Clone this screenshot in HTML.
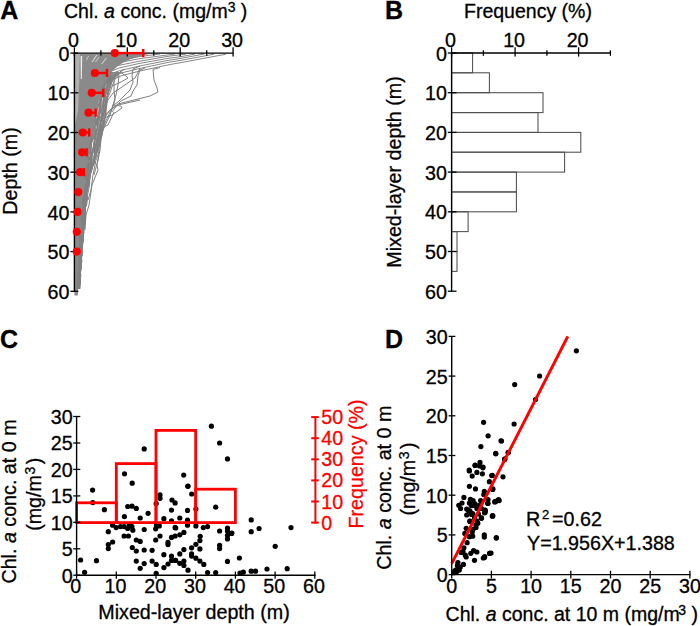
<!DOCTYPE html>
<html><head><meta charset="utf-8"><style>
html,body{margin:0;padding:0;background:#fff;overflow:hidden;}
svg{display:block;font-family:"Liberation Sans", sans-serif;}
text{stroke:#000;stroke-width:0.3px;}
text.r{stroke:#f00;}
</style></head><body>
<svg width="700" height="626" viewBox="0 0 700 626">
<rect width="700" height="626" fill="#fff"/>
<text x="0.2" y="18.6" font-size="25" text-anchor="start" font-weight="bold" fill="#000" >A</text>
<text x="384.9" y="18.6" font-size="25" text-anchor="start" font-weight="bold" fill="#000" >B</text>
<text x="-0.1" y="347.9" font-size="25" text-anchor="start" font-weight="bold" fill="#000" >C</text>
<text x="384.9" y="347.9" font-size="25" text-anchor="start" font-weight="bold" fill="#000" >D</text>
<text x="64" y="17.9" font-size="19.5">Chl. <tspan font-style="italic">a</tspan> conc. (mg/m<tspan font-size="14" dy="-6">3</tspan><tspan dy="6"> )</tspan></text>
<text transform="translate(16.7,171) rotate(-90)" font-size="19.7" text-anchor="middle">Depth (m)</text>
<polygon points="74.4,53.8 150.0,53.8 141.0,56.0 131.0,59.0 124.0,62.0 119.5,65.0 115.5,68.0 111.5,72.0 107.0,78.0 103.5,85.0 101.5,92.0 99.0,100.0 97.0,110.0 95.5,120.0 93.5,130.0 91.5,140.0 89.5,150.0 88.0,160.0 87.0,170.0 85.8,180.0 85.0,190.0 84.0,200.0 83.0,211.0 82.0,225.0 81.0,240.0 80.5,251.0 79.5,265.0 78.5,280.0 78.0,291.0 77.8,295.5 74.4,295.5" fill="#8a8a8a"/>
<polygon points="75.1,54 79.8,54 79.3,80 78.2,110 75.1,125" fill="#b0b0b0"/>
<path d="M80.6 56 L82.2 56 L81.8 79 L80.8 79 Z" fill="#eeeeee"/>
<path d="M91.5 62 L92.8 62 L97.5 55 L96.2 55 Z" fill="#d8d8d8"/>
<path d="M95 62 L96 62 L99.5 57 L98.5 57 Z" fill="#cfcfcf"/>
<path d="M101 64 L102.2 64 L107 58 L105.8 58 Z" fill="#d4d4d4"/>
<path d="M86 60 L87 60 L89 56 L88 56 Z" fill="#c8c8c8"/>
<path d="M103 86 L104 86 L103 100 L102 100 Z" fill="#d8d8d8"/>
<path d="M96 118 L97 118 L95.5 132 L94.5 132 Z" fill="#c8c8c8"/>
<path d="M91 150 L92 150 L90.5 165 L89.5 165 Z" fill="#c8c8c8"/>
<polyline points="111.6,72.0 106.9,79.0 104.7,86.0 101.3,93.0 99.3,100.0 98.1,107.0 95.7,114.0 95.6,121.0 94.5,128.0 93.6,135.0 90.1,142.0 89.3,149.0 87.6,156.0 88.8,163.0 87.7,170.0 84.9,177.0 87.0,184.0 86.4,191.0 84.7,198.0 83.9,205.0 82.0,212.0 81.0,219.0 82.1,226.0 80.2,233.0 80.1,240.0 79.9,247.0 78.9,254.0 79.7,261.0 79.1,268.0 79.9,275.0 78.5,282.0 78.5,289.0" fill="none" stroke="#808080" stroke-width="1"/>
<polyline points="112.3,72.0 107.5,79.0 103.7,86.0 101.1,93.0 101.2,100.0 99.8,107.0 98.2,114.0 96.7,121.0 94.1,128.0 92.4,135.0 91.2,142.0 89.1,149.0 90.0,156.0 87.9,163.0 88.4,170.0 86.1,177.0 87.1,184.0 86.1,191.0 82.9,198.0 82.8,205.0 84.3,212.0 82.5,219.0 83.5,226.0 81.3,233.0 79.8,240.0 81.2,247.0 81.2,254.0 79.2,261.0 78.1,268.0 78.4,275.0 79.9,282.0 78.9,289.0" fill="none" stroke="#808080" stroke-width="1"/>
<polyline points="111.6,72.0 106.7,79.0 103.0,86.0 100.8,93.0 101.1,100.0 97.9,107.0 97.9,114.0 96.4,121.0 94.2,128.0 94.4,135.0 91.2,142.0 91.3,149.0 88.5,156.0 88.3,163.0 86.7,170.0 85.9,177.0 87.3,184.0 86.1,191.0 83.9,198.0 85.0,205.0 82.3,212.0 82.3,219.0 83.2,226.0 82.1,233.0 80.0,240.0 82.3,247.0 79.5,254.0 79.2,261.0 80.2,268.0 78.4,275.0 77.9,282.0 76.9,289.0" fill="none" stroke="#808080" stroke-width="1"/>
<polyline points="112.1,72.0 108.0,79.0 103.8,86.0 102.9,93.0 100.2,100.0 99.2,107.0 99.6,114.0 97.0,121.0 95.8,128.0 95.3,135.0 91.8,142.0 90.3,149.0 91.3,156.0 89.8,163.0 87.0,170.0 85.8,177.0 86.7,184.0 86.6,191.0 83.7,198.0 85.3,205.0 84.4,212.0 83.1,219.0 82.0,226.0 80.6,233.0 79.9,240.0 82.3,247.0 79.7,254.0 80.6,261.0 78.7,268.0 80.0,275.0 78.8,282.0 77.6,289.0" fill="none" stroke="#808080" stroke-width="1"/>
<polyline points="112.8,72.0 108.8,79.0 103.7,86.0 102.1,93.0 101.3,100.0 100.9,107.0 99.1,114.0 96.9,121.0 97.3,128.0 93.8,135.0 91.8,142.0 91.1,149.0 90.3,156.0 87.8,163.0 87.0,170.0 86.5,177.0 86.4,184.0 84.3,191.0 84.3,198.0 85.2,205.0 84.8,212.0 83.3,219.0 82.9,226.0 82.1,233.0 80.3,240.0 79.5,247.0 79.1,254.0 81.2,261.0 80.1,268.0 80.4,275.0 77.1,282.0 78.6,289.0" fill="none" stroke="#808080" stroke-width="1"/>
<polyline points="114.3,72.0 109.2,79.0 104.9,86.0 104.8,93.0 100.3,100.0 100.5,107.0 100.0,114.0 99.2,121.0 97.3,128.0 95.7,135.0 94.6,142.0 93.5,149.0 90.4,156.0 90.0,163.0 89.4,170.0 88.2,177.0 86.0,184.0 86.4,191.0 85.9,198.0 84.3,205.0 83.8,212.0 82.6,219.0 82.7,226.0 82.2,233.0 80.1,240.0 81.4,247.0 82.0,254.0 81.2,261.0 80.2,268.0 78.7,275.0 79.3,282.0 78.5,289.0" fill="none" stroke="#808080" stroke-width="1"/>
<polyline points="114.7,72.0 109.9,79.0 104.5,86.0 104.5,93.0 100.6,100.0 101.2,107.0 99.7,114.0 97.7,121.0 97.7,128.0 95.6,135.0 94.5,142.0 94.0,149.0 90.6,156.0 88.3,163.0 87.8,170.0 87.8,177.0 85.5,184.0 84.6,191.0 86.1,198.0 84.7,205.0 83.4,212.0 84.2,219.0 82.0,226.0 82.5,233.0 80.6,240.0 80.9,247.0 81.5,254.0 81.3,261.0 80.7,268.0 78.8,275.0 78.9,282.0 77.7,289.0" fill="none" stroke="#808080" stroke-width="1"/>
<polyline points="114.3,72.0 109.2,79.0 107.2,86.0 105.2,93.0 103.1,100.0 102.7,107.0 99.6,114.0 98.0,121.0 97.4,128.0 95.4,135.0 93.8,142.0 93.0,149.0 92.1,156.0 90.1,163.0 88.1,170.0 88.5,177.0 88.0,184.0 85.6,191.0 83.7,198.0 82.9,205.0 84.8,212.0 81.8,219.0 83.2,226.0 82.3,233.0 81.0,240.0 82.0,247.0 79.2,254.0 79.1,261.0 79.5,268.0 77.7,275.0 79.7,282.0 77.5,289.0" fill="none" stroke="#808080" stroke-width="1"/>
<polyline points="114.8,72.0 108.2,79.0 107.0,86.0 104.3,93.0 103.3,100.0 102.3,107.0 101.7,114.0 100.9,121.0 98.6,128.0 95.7,135.0 95.1,142.0 92.7,149.0 90.7,156.0 90.3,163.0 89.5,170.0 86.7,177.0 86.0,184.0 85.4,191.0 85.7,198.0 84.5,205.0 84.1,212.0 84.0,219.0 82.4,226.0 83.0,233.0 82.8,240.0 79.9,247.0 82.0,254.0 80.9,261.0 78.6,268.0 79.1,275.0 79.1,282.0 79.6,289.0" fill="none" stroke="#808080" stroke-width="1"/>
<polyline points="116.0,72.0 110.2,79.0 108.1,86.0 105.8,93.0 104.8,100.0 102.2,107.0 101.8,114.0 99.1,121.0 99.2,128.0 98.0,135.0 96.0,142.0 94.8,149.0 91.7,156.0 91.9,163.0 90.5,170.0 89.2,177.0 87.0,184.0 86.9,191.0 84.7,198.0 85.8,205.0 84.9,212.0 82.9,219.0 81.5,226.0 82.1,233.0 81.8,240.0 82.0,247.0 80.7,254.0 78.8,261.0 80.7,268.0 77.9,275.0 79.7,282.0 77.4,289.0" fill="none" stroke="#808080" stroke-width="1"/>
<polyline points="116.4,72.0 111.2,79.0 106.3,86.0 104.2,93.0 103.9,100.0 103.5,107.0 102.9,114.0 101.1,121.0 100.3,128.0 97.5,135.0 97.4,142.0 93.4,149.0 92.1,156.0 91.1,163.0 88.6,170.0 88.7,177.0 87.4,184.0 86.2,191.0 86.4,198.0 84.8,205.0 83.4,212.0 83.1,219.0 83.9,226.0 83.5,233.0 80.9,240.0 82.3,247.0 82.2,254.0 80.4,261.0 80.0,268.0 78.4,275.0 78.9,282.0 78.4,289.0" fill="none" stroke="#808080" stroke-width="1"/>
<polyline points="117.7,72.0 109.3,79.0 109.2,86.0 105.7,93.0 104.0,100.0 104.3,107.0 102.6,114.0 101.0,121.0 100.1,128.0 96.7,135.0 96.7,142.0 94.9,149.0 94.7,156.0 92.7,163.0 88.8,170.0 88.1,177.0 86.0,184.0 86.0,191.0 86.4,198.0 85.9,205.0 84.0,212.0 83.0,219.0 82.0,226.0 82.7,233.0 83.1,240.0 80.2,247.0 81.7,254.0 78.9,261.0 78.9,268.0 78.5,275.0 79.4,282.0 77.9,289.0" fill="none" stroke="#808080" stroke-width="1"/>
<polyline points="117.5,72.0 111.4,79.0 107.0,86.0 106.8,93.0 103.7,100.0 103.9,107.0 102.1,114.0 100.6,121.0 100.1,128.0 98.3,135.0 96.7,142.0 95.3,149.0 93.9,156.0 90.7,163.0 88.8,170.0 88.7,177.0 87.7,184.0 86.4,191.0 86.6,198.0 85.2,205.0 85.2,212.0 82.8,219.0 83.8,226.0 83.4,233.0 83.1,240.0 80.9,247.0 80.3,254.0 81.7,261.0 79.0,268.0 80.9,275.0 80.1,282.0 77.3,289.0" fill="none" stroke="#808080" stroke-width="1"/>
<polyline points="117.7,72.0 112.1,79.0 107.9,86.0 105.3,93.0 106.3,100.0 104.1,107.0 104.3,114.0 100.9,121.0 100.2,128.0 99.5,135.0 96.1,142.0 95.2,149.0 94.7,156.0 93.3,163.0 91.3,170.0 87.3,177.0 87.5,184.0 87.2,191.0 85.7,198.0 85.5,205.0 83.3,212.0 82.4,219.0 81.9,226.0 81.2,233.0 82.1,240.0 81.5,247.0 81.2,254.0 79.4,261.0 79.0,268.0 78.5,275.0 79.9,282.0 79.9,289.0" fill="none" stroke="#808080" stroke-width="1"/>
<polyline points="120.2,72.0 110.6,79.0 107.7,86.0 108.2,93.0 105.6,100.0 105.6,107.0 103.4,114.0 102.4,121.0 101.0,128.0 99.2,135.0 98.3,142.0 95.1,149.0 95.2,156.0 93.4,163.0 89.2,170.0 88.5,177.0 88.3,184.0 86.3,191.0 84.9,198.0 84.1,205.0 84.4,212.0 82.3,219.0 84.4,226.0 83.5,233.0 82.7,240.0 82.6,247.0 81.4,254.0 80.2,261.0 80.3,268.0 79.5,275.0 80.4,282.0 79.4,289.0" fill="none" stroke="#808080" stroke-width="1"/>
<polyline points="118.8,72.0 113.4,79.0 110.1,86.0 108.1,93.0 107.2,100.0 105.1,107.0 105.6,114.0 104.1,121.0 102.0,128.0 100.7,135.0 99.3,142.0 96.7,149.0 95.7,156.0 91.4,163.0 89.9,170.0 88.8,177.0 86.3,184.0 86.2,191.0 86.3,198.0 85.5,205.0 83.7,212.0 85.2,219.0 83.8,226.0 82.2,233.0 82.6,240.0 81.8,247.0 81.2,254.0 80.2,261.0 81.5,268.0 79.9,275.0 79.6,282.0 79.3,289.0" fill="none" stroke="#808080" stroke-width="1"/>
<polyline points="121.4,72.0 111.1,79.0 110.1,86.0 108.3,93.0 105.9,100.0 105.6,107.0 103.6,114.0 102.6,121.0 101.6,128.0 99.2,135.0 98.2,142.0 98.7,149.0 95.6,156.0 93.0,163.0 91.9,170.0 89.2,177.0 89.4,184.0 87.2,191.0 86.9,198.0 84.0,205.0 84.9,212.0 84.8,219.0 82.0,226.0 84.1,233.0 81.2,240.0 81.6,247.0 80.1,254.0 80.6,261.0 80.4,268.0 78.2,275.0 80.4,282.0 78.3,289.0" fill="none" stroke="#808080" stroke-width="1"/>
<polyline points="120.6,72.0 113.2,79.0 109.8,86.0 107.4,93.0 107.6,100.0 106.5,107.0 104.8,114.0 104.6,121.0 101.8,128.0 99.4,135.0 98.7,142.0 96.6,149.0 94.8,156.0 94.1,163.0 90.4,170.0 90.4,177.0 88.8,184.0 85.5,191.0 87.6,198.0 86.7,205.0 83.4,212.0 85.3,219.0 83.3,226.0 82.8,233.0 83.7,240.0 80.9,247.0 81.2,254.0 81.9,261.0 80.8,268.0 79.5,275.0 80.5,282.0 79.5,289.0" fill="none" stroke="#808080" stroke-width="1"/>
<polyline points="121.3,72.0 112.1,79.0 110.9,86.0 108.3,93.0 106.7,100.0 105.5,107.0 106.1,114.0 103.3,121.0 102.7,128.0 101.9,135.0 99.8,142.0 97.7,149.0 96.5,156.0 93.4,163.0 91.8,170.0 89.5,177.0 89.7,184.0 88.4,191.0 86.9,198.0 84.7,205.0 83.6,212.0 85.3,219.0 84.4,226.0 83.3,233.0 81.9,240.0 81.1,247.0 81.8,254.0 80.9,261.0 80.4,268.0 80.0,275.0 79.9,282.0 77.7,289.0" fill="none" stroke="#808080" stroke-width="1"/>
<polyline points="120.8,72.0 115.1,79.0 112.2,86.0 109.9,93.0 106.7,100.0 106.0,107.0 105.8,114.0 104.7,121.0 103.8,128.0 100.6,135.0 100.5,142.0 97.6,149.0 95.5,156.0 94.5,163.0 91.3,170.0 89.9,177.0 87.9,184.0 87.1,191.0 85.4,198.0 85.1,205.0 85.6,212.0 85.3,219.0 82.4,226.0 81.9,233.0 83.4,240.0 82.2,247.0 82.1,254.0 79.9,261.0 80.0,268.0 79.0,275.0 80.1,282.0 78.2,289.0" fill="none" stroke="#808080" stroke-width="1"/>
<polyline points="226.0,54.2 180.0,62.8 170.0,64.5 140.0,71.0 122.0,75.5 112.0,80.0" fill="none" stroke="#878787" stroke-width="1"/>
<polyline points="214.0,54.2 180.0,60.5 170.0,62.0 140.0,68.4 121.0,73.0 110.0,77.0" fill="none" stroke="#878787" stroke-width="1"/>
<polyline points="204.0,54.1 180.0,58.5 170.0,60.0 140.0,65.9 120.0,70.5 110.0,74.0" fill="none" stroke="#878787" stroke-width="1"/>
<polyline points="195.0,54.1 180.0,56.8 170.0,58.0 140.0,63.3 119.0,68.0 109.0,72.0" fill="none" stroke="#878787" stroke-width="1"/>
<polyline points="186.0,54.1 170.0,56.0 140.0,61.1 118.0,65.5" fill="none" stroke="#878787" stroke-width="1"/>
<polyline points="175.0,54.0 140.0,58.6 117.0,63.0" fill="none" stroke="#878787" stroke-width="1"/>
<polyline points="160.0,54.0 140.0,56.5 116.0,60.5" fill="none" stroke="#878787" stroke-width="1"/>
<polyline points="160.0,67.5 153.0,69.5 154.0,80.0 157.0,88.0 158.0,92.0 150.0,96.0 130.0,101.0 118.0,104.0 110.0,110.0 104.0,118.0" fill="none" stroke="#808080" stroke-width="1"/>
<polyline points="145.0,68.0 140.0,70.0 138.0,76.0 137.0,85.0 133.0,91.0 131.0,96.0 121.0,101.0 117.0,105.0 112.0,112.0" fill="none" stroke="#808080" stroke-width="1"/>
<polyline points="140.0,66.0 133.0,69.0 132.0,76.0 133.0,82.0 130.0,90.0 124.0,96.0 118.0,102.0 112.0,106.0" fill="none" stroke="#808080" stroke-width="1"/>
<polyline points="140.0,68.5 135.0,78.0 122.0,87.0 113.0,93.0 108.0,100.0" fill="none" stroke="#808080" stroke-width="1"/>
<polyline points="125.0,69.0 120.0,72.0 126.0,76.0 128.0,78.0 121.0,82.0 112.0,86.0" fill="none" stroke="#808080" stroke-width="1"/>
<polyline points="140.0,100.0 118.0,105.0 110.0,110.0 104.0,118.0" fill="none" stroke="#808080" stroke-width="1"/>
<polyline points="113.0,105.0 121.0,106.0 122.0,108.0 112.0,115.0 104.0,118.0 100.0,122.0" fill="none" stroke="#808080" stroke-width="1"/>
<polyline points="114.0,112.0 108.0,125.0 101.0,128.0 99.0,135.0" fill="none" stroke="#808080" stroke-width="1"/>
<polyline points="116.0,73.0 114.0,80.0 114.0,90.0 115.0,100.0 110.0,115.0 103.0,130.0 100.0,140.0 98.0,160.0 94.0,175.0" fill="none" stroke="#808080" stroke-width="1"/>
<polyline points="119.0,75.0 118.0,85.0 116.0,95.0 112.0,108.0 104.0,125.0 100.0,135.0 96.0,150.0" fill="none" stroke="#808080" stroke-width="1"/>
<polyline points="103.0,130.0 101.0,140.0 100.0,150.0 96.0,160.0 93.0,175.0 91.0,190.0 88.0,200.0" fill="none" stroke="#808080" stroke-width="1"/>
<polyline points="100.0,150.0 97.0,165.0 98.0,170.0 92.0,185.0 89.0,205.0 86.0,215.0 85.0,230.0" fill="none" stroke="#808080" stroke-width="1"/>
<line x1="74.4" y1="53.1" x2="233.2" y2="53.1" stroke="#000" stroke-width="1.4" />
<line x1="74.4" y1="52.4" x2="74.4" y2="291.6" stroke="#000" stroke-width="1.4" />
<line x1="74.4" y1="47.3" x2="74.4" y2="56.6" stroke="#000" stroke-width="1.3" />
<line x1="100.9" y1="50.3" x2="100.9" y2="55.8" stroke="#000" stroke-width="1.3" />
<line x1="127.3" y1="47.3" x2="127.3" y2="56.6" stroke="#000" stroke-width="1.3" />
<line x1="153.8" y1="50.3" x2="153.8" y2="55.8" stroke="#000" stroke-width="1.3" />
<line x1="180.2" y1="47.3" x2="180.2" y2="56.6" stroke="#000" stroke-width="1.3" />
<line x1="206.7" y1="50.3" x2="206.7" y2="55.8" stroke="#000" stroke-width="1.3" />
<line x1="233.1" y1="47.3" x2="233.1" y2="56.6" stroke="#000" stroke-width="1.3" />
<line x1="70.4" y1="53.1" x2="78.4" y2="53.1" stroke="#000" stroke-width="1.3" />
<line x1="70.4" y1="92.8" x2="78.4" y2="92.8" stroke="#000" stroke-width="1.3" />
<line x1="70.4" y1="132.5" x2="78.4" y2="132.5" stroke="#000" stroke-width="1.3" />
<line x1="70.4" y1="172.2" x2="78.4" y2="172.2" stroke="#000" stroke-width="1.3" />
<line x1="70.4" y1="211.9" x2="78.4" y2="211.9" stroke="#000" stroke-width="1.3" />
<line x1="70.4" y1="251.6" x2="78.4" y2="251.6" stroke="#000" stroke-width="1.3" />
<line x1="70.4" y1="291.3" x2="78.4" y2="291.3" stroke="#000" stroke-width="1.3" />
<text x="73.4" y="46.6" font-size="19.7" text-anchor="middle" font-weight="normal" fill="#000" >0</text>
<text x="126.3" y="46.6" font-size="19.7" text-anchor="middle" font-weight="normal" fill="#000" >10</text>
<text x="179.2" y="46.6" font-size="19.7" text-anchor="middle" font-weight="normal" fill="#000" >20</text>
<text x="232.1" y="46.6" font-size="19.7" text-anchor="middle" font-weight="normal" fill="#000" >30</text>
<text x="69.5" y="60.7" font-size="19.7" text-anchor="end" font-weight="normal" fill="#000" >0</text>
<text x="69.5" y="100.4" font-size="19.7" text-anchor="end" font-weight="normal" fill="#000" >10</text>
<text x="69.5" y="140.1" font-size="19.7" text-anchor="end" font-weight="normal" fill="#000" >20</text>
<text x="69.5" y="179.8" font-size="19.7" text-anchor="end" font-weight="normal" fill="#000" >30</text>
<text x="69.5" y="219.5" font-size="19.7" text-anchor="end" font-weight="normal" fill="#000" >40</text>
<text x="69.5" y="259.2" font-size="19.7" text-anchor="end" font-weight="normal" fill="#000" >50</text>
<text x="69.5" y="298.9" font-size="19.7" text-anchor="end" font-weight="normal" fill="#000" >60</text>
<line x1="114.8" y1="53.1" x2="143.2" y2="53.1" stroke="#ff0000" stroke-width="2.4" />
<line x1="143.2" y1="49.0" x2="143.2" y2="57.2" stroke="#ff0000" stroke-width="2.5" />
<circle cx="114.8" cy="53.1" r="4.1" fill="#ff0000"/>
<line x1="94.9" y1="73.0" x2="107.0" y2="73.0" stroke="#ff0000" stroke-width="2.4" />
<line x1="107.0" y1="68.9" x2="107.0" y2="77.0" stroke="#ff0000" stroke-width="2.5" />
<circle cx="94.9" cy="73.0" r="4.1" fill="#ff0000"/>
<line x1="91.7" y1="92.8" x2="103.2" y2="92.8" stroke="#ff0000" stroke-width="2.4" />
<line x1="103.2" y1="88.7" x2="103.2" y2="96.9" stroke="#ff0000" stroke-width="2.5" />
<circle cx="91.7" cy="92.8" r="4.1" fill="#ff0000"/>
<line x1="88.5" y1="112.7" x2="95.6" y2="112.7" stroke="#ff0000" stroke-width="2.4" />
<line x1="95.6" y1="108.6" x2="95.6" y2="116.8" stroke="#ff0000" stroke-width="2.5" />
<circle cx="88.5" cy="112.7" r="4.1" fill="#ff0000"/>
<line x1="82.8" y1="132.5" x2="89.2" y2="132.5" stroke="#ff0000" stroke-width="2.4" />
<line x1="89.2" y1="128.4" x2="89.2" y2="136.6" stroke="#ff0000" stroke-width="2.5" />
<circle cx="82.8" cy="132.5" r="4.1" fill="#ff0000"/>
<line x1="82.1" y1="152.3" x2="86.6" y2="152.3" stroke="#ff0000" stroke-width="2.4" />
<line x1="86.6" y1="148.2" x2="86.6" y2="156.4" stroke="#ff0000" stroke-width="2.5" />
<circle cx="82.1" cy="152.3" r="4.1" fill="#ff0000"/>
<line x1="80.2" y1="172.2" x2="84.0" y2="172.2" stroke="#ff0000" stroke-width="2.4" />
<line x1="84.0" y1="168.1" x2="84.0" y2="176.3" stroke="#ff0000" stroke-width="2.5" />
<circle cx="80.2" cy="172.2" r="4.1" fill="#ff0000"/>
<circle cx="78.3" cy="192.1" r="4.1" fill="#ff0000"/>
<circle cx="77.6" cy="211.9" r="4.1" fill="#ff0000"/>
<circle cx="76.8" cy="231.8" r="4.1" fill="#ff0000"/>
<circle cx="76.8" cy="251.6" r="4.1" fill="#ff0000"/>
<text x="464" y="17.9" font-size="19.5">Frequency (%)</text>
<text transform="translate(401.1,172) rotate(-90)" font-size="19.7" text-anchor="middle">Mixed-layer depth (m)</text>
<rect x="451.6" y="53.0" width="21.0" height="19.8" fill="none" stroke="#4f4f4f" stroke-width="1.05"/>
<rect x="451.6" y="72.8" width="37.8" height="19.9" fill="none" stroke="#4f4f4f" stroke-width="1.05"/>
<rect x="451.6" y="92.7" width="91.4" height="19.9" fill="none" stroke="#4f4f4f" stroke-width="1.05"/>
<rect x="451.6" y="112.6" width="86.4" height="19.8" fill="none" stroke="#4f4f4f" stroke-width="1.05"/>
<rect x="451.6" y="132.4" width="129.2" height="19.8" fill="none" stroke="#4f4f4f" stroke-width="1.05"/>
<rect x="451.6" y="152.2" width="113.0" height="19.9" fill="none" stroke="#4f4f4f" stroke-width="1.05"/>
<rect x="451.6" y="172.1" width="64.8" height="19.8" fill="none" stroke="#4f4f4f" stroke-width="1.05"/>
<rect x="451.6" y="192.0" width="64.8" height="19.8" fill="none" stroke="#4f4f4f" stroke-width="1.05"/>
<rect x="451.6" y="211.8" width="16.5" height="19.8" fill="none" stroke="#4f4f4f" stroke-width="1.05"/>
<rect x="451.6" y="231.7" width="5.4" height="19.8" fill="none" stroke="#4f4f4f" stroke-width="1.05"/>
<rect x="451.6" y="251.5" width="5.4" height="19.9" fill="none" stroke="#4f4f4f" stroke-width="1.05"/>
<line x1="451.6" y1="53.0" x2="610.4" y2="53.0" stroke="#000" stroke-width="1.4" />
<line x1="451.6" y1="52.3" x2="451.6" y2="291.6" stroke="#000" stroke-width="1.4" />
<line x1="451.6" y1="47.3" x2="451.6" y2="56.6" stroke="#000" stroke-width="1.3" />
<line x1="483.4" y1="50.3" x2="483.4" y2="55.8" stroke="#000" stroke-width="1.3" />
<line x1="515.1" y1="47.3" x2="515.1" y2="56.6" stroke="#000" stroke-width="1.3" />
<line x1="546.9" y1="50.3" x2="546.9" y2="55.8" stroke="#000" stroke-width="1.3" />
<line x1="578.6" y1="47.3" x2="578.6" y2="56.6" stroke="#000" stroke-width="1.3" />
<line x1="610.4" y1="50.3" x2="610.4" y2="55.8" stroke="#000" stroke-width="1.3" />
<line x1="447.8" y1="53.0" x2="456.5" y2="53.0" stroke="#000" stroke-width="1.3" />
<line x1="447.8" y1="92.7" x2="456.5" y2="92.7" stroke="#000" stroke-width="1.3" />
<line x1="447.8" y1="132.4" x2="456.5" y2="132.4" stroke="#000" stroke-width="1.3" />
<line x1="447.8" y1="172.1" x2="456.5" y2="172.1" stroke="#000" stroke-width="1.3" />
<line x1="447.8" y1="211.8" x2="456.5" y2="211.8" stroke="#000" stroke-width="1.3" />
<line x1="447.8" y1="251.5" x2="456.5" y2="251.5" stroke="#000" stroke-width="1.3" />
<line x1="447.8" y1="291.2" x2="456.5" y2="291.2" stroke="#000" stroke-width="1.3" />
<text x="450.6" y="46.6" font-size="19.7" text-anchor="middle" font-weight="normal" fill="#000" >0</text>
<text x="514.1" y="46.6" font-size="19.7" text-anchor="middle" font-weight="normal" fill="#000" >10</text>
<text x="577.6" y="46.6" font-size="19.7" text-anchor="middle" font-weight="normal" fill="#000" >20</text>
<text x="447.0" y="60.6" font-size="19.7" text-anchor="end" font-weight="normal" fill="#000" >0</text>
<text x="447.0" y="100.3" font-size="19.7" text-anchor="end" font-weight="normal" fill="#000" >10</text>
<text x="447.0" y="140.0" font-size="19.7" text-anchor="end" font-weight="normal" fill="#000" >20</text>
<text x="447.0" y="179.7" font-size="19.7" text-anchor="end" font-weight="normal" fill="#000" >30</text>
<text x="447.0" y="219.4" font-size="19.7" text-anchor="end" font-weight="normal" fill="#000" >40</text>
<text x="447.0" y="259.1" font-size="19.7" text-anchor="end" font-weight="normal" fill="#000" >50</text>
<text x="447.0" y="298.8" font-size="19.7" text-anchor="end" font-weight="normal" fill="#000" >60</text>
<text transform="translate(16.2,501.5) rotate(-90)" font-size="19.7" text-anchor="middle">Chl. <tspan font-style="italic">a</tspan> conc. at 0 m</text>
<text transform="translate(40.6,494.3) rotate(-90)" font-size="19.7" text-anchor="middle">(mg/m<tspan font-size="14" dy="-6" dx="0.5">3</tspan><tspan dy="6" dx="2.5">)</tspan></text>
<text x="194.0" y="618.8" font-size="19.7" text-anchor="middle" font-weight="normal" fill="#000" >Mixed-layer depth (m)</text>
<circle cx="92.6" cy="490.1" r="2.6" fill="#000"/>
<circle cx="144.2" cy="448.9" r="2.6" fill="#000"/>
<circle cx="124.5" cy="473.8" r="2.6" fill="#000"/>
<circle cx="132.2" cy="483.2" r="2.6" fill="#000"/>
<circle cx="183.7" cy="475.1" r="2.6" fill="#000"/>
<circle cx="187.8" cy="486.3" r="2.6" fill="#000"/>
<circle cx="191.7" cy="494.0" r="2.6" fill="#000"/>
<circle cx="160.0" cy="494.9" r="2.6" fill="#000"/>
<circle cx="160.0" cy="498.3" r="2.6" fill="#000"/>
<circle cx="172.0" cy="500.0" r="2.6" fill="#000"/>
<circle cx="92.8" cy="502.6" r="2.6" fill="#000"/>
<circle cx="104.4" cy="509.7" r="2.6" fill="#000"/>
<circle cx="127.7" cy="506.5" r="2.6" fill="#000"/>
<circle cx="132.0" cy="506.2" r="2.6" fill="#000"/>
<circle cx="136.3" cy="508.4" r="2.6" fill="#000"/>
<circle cx="124.4" cy="516.6" r="2.6" fill="#000"/>
<circle cx="140.2" cy="518.0" r="2.6" fill="#000"/>
<circle cx="148.1" cy="513.3" r="2.6" fill="#000"/>
<circle cx="156.2" cy="503.6" r="2.6" fill="#000"/>
<circle cx="171.5" cy="510.1" r="2.6" fill="#000"/>
<circle cx="163.9" cy="518.7" r="2.6" fill="#000"/>
<circle cx="171.5" cy="520.9" r="2.6" fill="#000"/>
<circle cx="175.1" cy="502.9" r="2.6" fill="#000"/>
<circle cx="175.1" cy="527.4" r="2.6" fill="#000"/>
<circle cx="112.6" cy="525.2" r="2.6" fill="#000"/>
<circle cx="116.2" cy="527.6" r="2.6" fill="#000"/>
<circle cx="120.5" cy="526.6" r="2.6" fill="#000"/>
<circle cx="124.1" cy="526.6" r="2.6" fill="#000"/>
<circle cx="127.7" cy="528.5" r="2.6" fill="#000"/>
<circle cx="132.0" cy="526.6" r="2.6" fill="#000"/>
<circle cx="132.8" cy="530.2" r="2.6" fill="#000"/>
<circle cx="129.2" cy="525.2" r="2.6" fill="#000"/>
<circle cx="108.3" cy="531.7" r="2.6" fill="#000"/>
<circle cx="144.2" cy="529.5" r="2.6" fill="#000"/>
<circle cx="155.7" cy="528.8" r="2.6" fill="#000"/>
<circle cx="159.3" cy="525.9" r="2.6" fill="#000"/>
<circle cx="156.5" cy="525.2" r="2.6" fill="#000"/>
<circle cx="124.1" cy="536.0" r="2.6" fill="#000"/>
<circle cx="128.4" cy="536.0" r="2.6" fill="#000"/>
<circle cx="160.0" cy="536.0" r="2.6" fill="#000"/>
<circle cx="155.7" cy="540.0" r="2.6" fill="#000"/>
<circle cx="136.3" cy="540.0" r="2.6" fill="#000"/>
<circle cx="140.2" cy="541.4" r="2.6" fill="#000"/>
<circle cx="112.6" cy="542.0" r="2.6" fill="#000"/>
<circle cx="108.3" cy="544.6" r="2.6" fill="#000"/>
<circle cx="108.3" cy="548.6" r="2.6" fill="#000"/>
<circle cx="132.3" cy="547.5" r="2.6" fill="#000"/>
<circle cx="136.3" cy="551.0" r="2.6" fill="#000"/>
<circle cx="144.2" cy="550.0" r="2.6" fill="#000"/>
<circle cx="152.1" cy="550.3" r="2.6" fill="#000"/>
<circle cx="168.0" cy="542.4" r="2.6" fill="#000"/>
<circle cx="168.0" cy="544.6" r="2.6" fill="#000"/>
<circle cx="171.5" cy="537.4" r="2.6" fill="#000"/>
<circle cx="175.1" cy="536.0" r="2.6" fill="#000"/>
<circle cx="163.9" cy="554.7" r="2.6" fill="#000"/>
<circle cx="171.5" cy="556.1" r="2.6" fill="#000"/>
<circle cx="171.5" cy="560.4" r="2.6" fill="#000"/>
<circle cx="168.0" cy="564.0" r="2.6" fill="#000"/>
<circle cx="163.9" cy="567.6" r="2.6" fill="#000"/>
<circle cx="175.1" cy="560.4" r="2.6" fill="#000"/>
<circle cx="80.6" cy="560.0" r="2.6" fill="#000"/>
<circle cx="96.5" cy="560.7" r="2.6" fill="#000"/>
<circle cx="84.6" cy="572.3" r="2.6" fill="#000"/>
<circle cx="136.3" cy="561.1" r="2.6" fill="#000"/>
<circle cx="144.2" cy="563.6" r="2.6" fill="#000"/>
<circle cx="140.2" cy="568.3" r="2.6" fill="#000"/>
<circle cx="152.1" cy="561.1" r="2.6" fill="#000"/>
<circle cx="156.2" cy="564.4" r="2.6" fill="#000"/>
<circle cx="156.2" cy="573.3" r="2.6" fill="#000"/>
<circle cx="211.4" cy="426.2" r="2.6" fill="#000"/>
<circle cx="219.6" cy="443.0" r="2.6" fill="#000"/>
<circle cx="227.5" cy="458.9" r="2.6" fill="#000"/>
<circle cx="188.0" cy="486.1" r="2.6" fill="#000"/>
<circle cx="187.5" cy="510.4" r="2.6" fill="#000"/>
<circle cx="195.9" cy="509.1" r="2.6" fill="#000"/>
<circle cx="215.7" cy="507.2" r="2.6" fill="#000"/>
<circle cx="179.8" cy="518.0" r="2.6" fill="#000"/>
<circle cx="187.5" cy="520.2" r="2.6" fill="#000"/>
<circle cx="175.7" cy="528.0" r="2.6" fill="#000"/>
<circle cx="187.5" cy="525.2" r="2.6" fill="#000"/>
<circle cx="195.9" cy="525.9" r="2.6" fill="#000"/>
<circle cx="203.3" cy="527.6" r="2.6" fill="#000"/>
<circle cx="207.6" cy="526.6" r="2.6" fill="#000"/>
<circle cx="219.6" cy="531.0" r="2.6" fill="#000"/>
<circle cx="227.5" cy="528.0" r="2.6" fill="#000"/>
<circle cx="227.5" cy="531.0" r="2.6" fill="#000"/>
<circle cx="231.8" cy="533.1" r="2.6" fill="#000"/>
<circle cx="227.5" cy="535.3" r="2.6" fill="#000"/>
<circle cx="227.5" cy="538.9" r="2.6" fill="#000"/>
<circle cx="251.2" cy="519.9" r="2.6" fill="#000"/>
<circle cx="251.2" cy="531.7" r="2.6" fill="#000"/>
<circle cx="259.1" cy="528.5" r="2.6" fill="#000"/>
<circle cx="183.9" cy="532.4" r="2.6" fill="#000"/>
<circle cx="179.8" cy="534.8" r="2.6" fill="#000"/>
<circle cx="200.2" cy="536.3" r="2.6" fill="#000"/>
<circle cx="199.9" cy="540.6" r="2.6" fill="#000"/>
<circle cx="195.9" cy="544.3" r="2.6" fill="#000"/>
<circle cx="191.6" cy="547.8" r="2.6" fill="#000"/>
<circle cx="199.9" cy="548.9" r="2.6" fill="#000"/>
<circle cx="219.6" cy="545.3" r="2.6" fill="#000"/>
<circle cx="219.6" cy="548.6" r="2.6" fill="#000"/>
<circle cx="183.9" cy="549.6" r="2.6" fill="#000"/>
<circle cx="179.8" cy="553.9" r="2.6" fill="#000"/>
<circle cx="191.6" cy="553.9" r="2.6" fill="#000"/>
<circle cx="191.6" cy="556.1" r="2.6" fill="#000"/>
<circle cx="195.9" cy="558.2" r="2.6" fill="#000"/>
<circle cx="175.7" cy="560.4" r="2.6" fill="#000"/>
<circle cx="199.9" cy="561.1" r="2.6" fill="#000"/>
<circle cx="183.9" cy="561.1" r="2.6" fill="#000"/>
<circle cx="179.8" cy="563.3" r="2.6" fill="#000"/>
<circle cx="183.9" cy="565.4" r="2.6" fill="#000"/>
<circle cx="203.8" cy="564.4" r="2.6" fill="#000"/>
<circle cx="188.0" cy="570.2" r="2.6" fill="#000"/>
<circle cx="227.5" cy="561.4" r="2.6" fill="#000"/>
<circle cx="239.4" cy="558.0" r="2.6" fill="#000"/>
<circle cx="207.6" cy="572.6" r="2.6" fill="#000"/>
<circle cx="215.7" cy="572.6" r="2.6" fill="#000"/>
<circle cx="240.0" cy="573.0" r="2.6" fill="#000"/>
<circle cx="243.3" cy="572.2" r="2.6" fill="#000"/>
<circle cx="251.2" cy="571.2" r="2.6" fill="#000"/>
<circle cx="255.5" cy="571.2" r="2.6" fill="#000"/>
<circle cx="267.0" cy="569.0" r="2.6" fill="#000"/>
<circle cx="291.0" cy="527.6" r="2.6" fill="#000"/>
<circle cx="275.2" cy="546.3" r="2.6" fill="#000"/>
<circle cx="287.2" cy="568.7" r="2.6" fill="#000"/>
<circle cx="231.6" cy="533.5" r="2.6" fill="#000"/>
<rect x="76.6" y="502.8" width="39.7" height="19.8" fill="none" stroke="#ff0000" stroke-width="2.8"/>
<rect x="116.3" y="463.6" width="39.7" height="59.0" fill="none" stroke="#ff0000" stroke-width="2.8"/>
<rect x="156.0" y="430.4" width="39.7" height="92.2" fill="none" stroke="#ff0000" stroke-width="2.8"/>
<rect x="195.7" y="489.2" width="39.7" height="33.4" fill="none" stroke="#ff0000" stroke-width="2.8"/>
<line x1="76.6" y1="416.2" x2="76.6" y2="575.9" stroke="#000" stroke-width="1.4" />
<line x1="75.9" y1="575.2" x2="315.5" y2="575.2" stroke="#000" stroke-width="1.4" />
<line x1="73.2" y1="575.2" x2="80.3" y2="575.2" stroke="#000" stroke-width="1.3" />
<text x="72.6" y="582.6" font-size="19.7" text-anchor="end" font-weight="normal" fill="#000" >0</text>
<line x1="73.2" y1="548.8" x2="80.3" y2="548.8" stroke="#000" stroke-width="1.3" />
<text x="72.6" y="556.1" font-size="19.7" text-anchor="end" font-weight="normal" fill="#000" >5</text>
<line x1="73.2" y1="522.3" x2="80.3" y2="522.3" stroke="#000" stroke-width="1.3" />
<text x="72.6" y="529.7" font-size="19.7" text-anchor="end" font-weight="normal" fill="#000" >10</text>
<line x1="73.2" y1="495.9" x2="80.3" y2="495.9" stroke="#000" stroke-width="1.3" />
<text x="72.6" y="503.2" font-size="19.7" text-anchor="end" font-weight="normal" fill="#000" >15</text>
<line x1="73.2" y1="469.4" x2="80.3" y2="469.4" stroke="#000" stroke-width="1.3" />
<text x="72.6" y="476.8" font-size="19.7" text-anchor="end" font-weight="normal" fill="#000" >20</text>
<line x1="73.2" y1="443.0" x2="80.3" y2="443.0" stroke="#000" stroke-width="1.3" />
<text x="72.6" y="450.4" font-size="19.7" text-anchor="end" font-weight="normal" fill="#000" >25</text>
<line x1="73.2" y1="416.5" x2="80.3" y2="416.5" stroke="#000" stroke-width="1.3" />
<text x="72.6" y="423.9" font-size="19.7" text-anchor="end" font-weight="normal" fill="#000" >30</text>
<line x1="76.6" y1="571.5" x2="76.6" y2="578.7" stroke="#000" stroke-width="1.3" />
<text x="75.8" y="593.3" font-size="19.7" text-anchor="middle" font-weight="normal" fill="#000" >0</text>
<line x1="116.3" y1="571.5" x2="116.3" y2="578.7" stroke="#000" stroke-width="1.3" />
<text x="115.5" y="593.3" font-size="19.7" text-anchor="middle" font-weight="normal" fill="#000" >10</text>
<line x1="156.0" y1="571.5" x2="156.0" y2="578.7" stroke="#000" stroke-width="1.3" />
<text x="155.2" y="593.3" font-size="19.7" text-anchor="middle" font-weight="normal" fill="#000" >20</text>
<line x1="195.7" y1="571.5" x2="195.7" y2="578.7" stroke="#000" stroke-width="1.3" />
<text x="194.9" y="593.3" font-size="19.7" text-anchor="middle" font-weight="normal" fill="#000" >30</text>
<line x1="235.4" y1="571.5" x2="235.4" y2="578.7" stroke="#000" stroke-width="1.3" />
<text x="234.6" y="593.3" font-size="19.7" text-anchor="middle" font-weight="normal" fill="#000" >40</text>
<line x1="275.1" y1="571.5" x2="275.1" y2="578.7" stroke="#000" stroke-width="1.3" />
<text x="274.3" y="593.3" font-size="19.7" text-anchor="middle" font-weight="normal" fill="#000" >50</text>
<line x1="314.8" y1="571.5" x2="314.8" y2="578.7" stroke="#000" stroke-width="1.3" />
<text x="314.0" y="593.3" font-size="19.7" text-anchor="middle" font-weight="normal" fill="#000" >60</text>
<line x1="315.4" y1="416.3" x2="315.4" y2="523.6" stroke="#ff0000" stroke-width="2.0" />
<line x1="311.2" y1="522.6" x2="318.8" y2="522.6" stroke="#ff0000" stroke-width="2.0" />
<text x="321.2" y="529.6" font-size="19.7" text-anchor="start" font-weight="normal" fill="#ff0000" class="r">0</text>
<line x1="311.2" y1="501.5" x2="318.8" y2="501.5" stroke="#ff0000" stroke-width="2.0" />
<text x="321.2" y="508.5" font-size="19.7" text-anchor="start" font-weight="normal" fill="#ff0000" class="r">10</text>
<line x1="311.2" y1="480.4" x2="318.8" y2="480.4" stroke="#ff0000" stroke-width="2.0" />
<text x="321.2" y="487.4" font-size="19.7" text-anchor="start" font-weight="normal" fill="#ff0000" class="r">20</text>
<line x1="311.2" y1="459.3" x2="318.8" y2="459.3" stroke="#ff0000" stroke-width="2.0" />
<text x="321.2" y="466.3" font-size="19.7" text-anchor="start" font-weight="normal" fill="#ff0000" class="r">30</text>
<line x1="311.2" y1="438.2" x2="318.8" y2="438.2" stroke="#ff0000" stroke-width="2.0" />
<text x="321.2" y="445.2" font-size="19.7" text-anchor="start" font-weight="normal" fill="#ff0000" class="r">40</text>
<line x1="311.2" y1="417.1" x2="318.8" y2="417.1" stroke="#ff0000" stroke-width="2.0" />
<text x="321.2" y="424.1" font-size="19.7" text-anchor="start" font-weight="normal" fill="#ff0000" class="r">50</text>
<text transform="translate(362.8,464) rotate(-90)" font-size="19.7" text-anchor="middle" fill="#ff0000" class="r">Frequency (%)</text>
<text transform="translate(391.2,487.7) rotate(-90)" font-size="19.7" text-anchor="middle">Chl. <tspan font-style="italic">a</tspan> conc. at 0 m</text>
<text transform="translate(414.6,479.0) rotate(-90)" font-size="19.7" text-anchor="middle">(mg/m<tspan font-size="14" dy="-6" dx="0.5">3</tspan><tspan dy="6" dx="2.5">)</tspan></text>
<text x="445.6" y="621.0" font-size="19.5">Chl. <tspan font-style="italic">a</tspan> conc. at 10 m (mg/m<tspan font-size="14" dy="-6" dx="-1.5">3</tspan><tspan dy="6"> )</tspan></text>
<text x="526" y="526.2" font-size="19.7">R<tspan font-size="13" dy="-7.6" dx="1.8">2</tspan><tspan dy="7.6" dx="2.8">=0.62</tspan></text>
<text x="527.0" y="549.8" font-size="19.7" text-anchor="start" font-weight="normal" fill="#000" >Y=1.956X+1.388</text>
<circle cx="484.3" cy="534.8" r="2.6" fill="#000"/>
<circle cx="484.3" cy="537.1" r="2.6" fill="#000"/>
<circle cx="496.3" cy="537.6" r="2.6" fill="#000"/>
<circle cx="489.8" cy="553.3" r="2.6" fill="#000"/>
<circle cx="484.7" cy="556.6" r="2.6" fill="#000"/>
<circle cx="483.3" cy="558.0" r="2.6" fill="#000"/>
<circle cx="474.5" cy="560.3" r="2.6" fill="#000"/>
<circle cx="476.9" cy="552.0" r="2.6" fill="#000"/>
<circle cx="473.6" cy="550.6" r="2.6" fill="#000"/>
<circle cx="470.8" cy="553.3" r="2.6" fill="#000"/>
<circle cx="466.2" cy="557.0" r="2.6" fill="#000"/>
<circle cx="465.3" cy="555.2" r="2.6" fill="#000"/>
<circle cx="463.0" cy="551.5" r="2.6" fill="#000"/>
<circle cx="461.1" cy="552.4" r="2.6" fill="#000"/>
<circle cx="463.9" cy="547.8" r="2.6" fill="#000"/>
<circle cx="467.1" cy="542.7" r="2.6" fill="#000"/>
<circle cx="466.2" cy="528.3" r="2.6" fill="#000"/>
<circle cx="464.8" cy="533.4" r="2.6" fill="#000"/>
<circle cx="469.9" cy="521.4" r="2.6" fill="#000"/>
<circle cx="477.8" cy="523.2" r="2.6" fill="#000"/>
<circle cx="475.9" cy="525.1" r="2.6" fill="#000"/>
<circle cx="473.1" cy="529.3" r="2.6" fill="#000"/>
<circle cx="472.2" cy="532.0" r="2.6" fill="#000"/>
<circle cx="472.7" cy="536.2" r="2.6" fill="#000"/>
<circle cx="469.4" cy="536.7" r="2.6" fill="#000"/>
<circle cx="463.4" cy="564.4" r="2.6" fill="#000"/>
<circle cx="457.9" cy="562.6" r="2.6" fill="#000"/>
<circle cx="457.4" cy="565.4" r="2.6" fill="#000"/>
<circle cx="458.3" cy="568.1" r="2.6" fill="#000"/>
<circle cx="455.6" cy="570.0" r="2.6" fill="#000"/>
<circle cx="453.7" cy="571.9" r="2.6" fill="#000"/>
<circle cx="460.2" cy="567.2" r="2.6" fill="#000"/>
<circle cx="456.9" cy="571.4" r="2.6" fill="#000"/>
<circle cx="459.3" cy="570.0" r="2.6" fill="#000"/>
<circle cx="475.0" cy="465.5" r="2.6" fill="#000"/>
<circle cx="479.6" cy="465.9" r="2.6" fill="#000"/>
<circle cx="482.9" cy="467.8" r="2.6" fill="#000"/>
<circle cx="469.4" cy="471.0" r="2.6" fill="#000"/>
<circle cx="476.9" cy="472.4" r="2.6" fill="#000"/>
<circle cx="482.4" cy="473.8" r="2.6" fill="#000"/>
<circle cx="472.2" cy="476.1" r="2.6" fill="#000"/>
<circle cx="491.7" cy="475.6" r="2.6" fill="#000"/>
<circle cx="489.4" cy="481.7" r="2.6" fill="#000"/>
<circle cx="469.4" cy="486.3" r="2.6" fill="#000"/>
<circle cx="475.5" cy="488.9" r="2.6" fill="#000"/>
<circle cx="484.3" cy="491.4" r="2.6" fill="#000"/>
<circle cx="492.6" cy="489.5" r="2.6" fill="#000"/>
<circle cx="483.8" cy="494.6" r="2.6" fill="#000"/>
<circle cx="463.9" cy="497.4" r="2.6" fill="#000"/>
<circle cx="470.4" cy="499.3" r="2.6" fill="#000"/>
<circle cx="473.1" cy="500.6" r="2.6" fill="#000"/>
<circle cx="462.0" cy="503.0" r="2.6" fill="#000"/>
<circle cx="458.8" cy="505.3" r="2.6" fill="#000"/>
<circle cx="460.6" cy="508.5" r="2.6" fill="#000"/>
<circle cx="469.4" cy="503.0" r="2.6" fill="#000"/>
<circle cx="475.0" cy="503.9" r="2.6" fill="#000"/>
<circle cx="471.3" cy="505.7" r="2.6" fill="#000"/>
<circle cx="466.7" cy="509.0" r="2.6" fill="#000"/>
<circle cx="468.5" cy="510.4" r="2.6" fill="#000"/>
<circle cx="480.6" cy="500.6" r="2.6" fill="#000"/>
<circle cx="488.0" cy="499.7" r="2.6" fill="#000"/>
<circle cx="488.0" cy="503.4" r="2.6" fill="#000"/>
<circle cx="494.9" cy="502.0" r="2.6" fill="#000"/>
<circle cx="498.6" cy="499.7" r="2.6" fill="#000"/>
<circle cx="485.2" cy="510.4" r="2.6" fill="#000"/>
<circle cx="485.2" cy="512.2" r="2.6" fill="#000"/>
<circle cx="481.5" cy="508.5" r="2.6" fill="#000"/>
<circle cx="466.7" cy="515.0" r="2.6" fill="#000"/>
<circle cx="472.7" cy="513.6" r="2.6" fill="#000"/>
<circle cx="481.5" cy="518.2" r="2.6" fill="#000"/>
<circle cx="492.6" cy="515.5" r="2.6" fill="#000"/>
<circle cx="469.9" cy="521.0" r="2.6" fill="#000"/>
<circle cx="476.9" cy="521.0" r="2.6" fill="#000"/>
<circle cx="478.7" cy="505.7" r="2.6" fill="#000"/>
<circle cx="476.9" cy="508.5" r="2.6" fill="#000"/>
<circle cx="501.5" cy="441.0" r="2.6" fill="#000"/>
<circle cx="495.7" cy="453.4" r="2.6" fill="#000"/>
<circle cx="508.2" cy="452.5" r="2.6" fill="#000"/>
<circle cx="504.9" cy="459.2" r="2.6" fill="#000"/>
<circle cx="492.3" cy="475.4" r="2.6" fill="#000"/>
<circle cx="503.0" cy="476.8" r="2.6" fill="#000"/>
<circle cx="492.9" cy="488.9" r="2.6" fill="#000"/>
<circle cx="498.0" cy="500.3" r="2.6" fill="#000"/>
<circle cx="494.8" cy="501.7" r="2.6" fill="#000"/>
<circle cx="492.3" cy="516.2" r="2.6" fill="#000"/>
<circle cx="496.3" cy="538.1" r="2.6" fill="#000"/>
<circle cx="491.0" cy="553.0" r="2.6" fill="#000"/>
<circle cx="483.6" cy="422.3" r="2.6" fill="#000"/>
<circle cx="514.1" cy="424.0" r="2.6" fill="#000"/>
<circle cx="488.1" cy="435.8" r="2.6" fill="#000"/>
<circle cx="501.0" cy="440.8" r="2.6" fill="#000"/>
<circle cx="480.9" cy="446.6" r="2.6" fill="#000"/>
<circle cx="495.8" cy="453.8" r="2.6" fill="#000"/>
<circle cx="508.2" cy="452.6" r="2.6" fill="#000"/>
<circle cx="504.6" cy="459.1" r="2.6" fill="#000"/>
<circle cx="480.0" cy="462.4" r="2.6" fill="#000"/>
<circle cx="475.2" cy="465.1" r="2.6" fill="#000"/>
<circle cx="483.0" cy="467.0" r="2.6" fill="#000"/>
<circle cx="469.2" cy="470.0" r="2.6" fill="#000"/>
<circle cx="576.4" cy="350.8" r="2.6" fill="#000"/>
<circle cx="539.6" cy="376.0" r="2.6" fill="#000"/>
<circle cx="514.7" cy="384.6" r="2.6" fill="#000"/>
<circle cx="535.5" cy="399.5" r="2.6" fill="#000"/>
<circle cx="492.8" cy="516.0" r="2.6" fill="#000"/>
<circle cx="471.5" cy="514.5" r="2.6" fill="#000"/>
<circle cx="470.0" cy="511.0" r="2.6" fill="#000"/>
<circle cx="474.5" cy="518.0" r="2.6" fill="#000"/>
<circle cx="478.5" cy="514.0" r="2.6" fill="#000"/>
<circle cx="481.5" cy="501.5" r="2.6" fill="#000"/>
<circle cx="474.0" cy="505.5" r="2.6" fill="#000"/>
<circle cx="476.0" cy="527.5" r="2.6" fill="#000"/>
<circle cx="489.6" cy="553.4" r="2.6" fill="#000"/>
<circle cx="484.5" cy="557.5" r="2.6" fill="#000"/>
<circle cx="485.1" cy="510.2" r="2.6" fill="#000"/>
<circle cx="484.5" cy="512.8" r="2.6" fill="#000"/>
<circle cx="481.3" cy="517.9" r="2.6" fill="#000"/>
<circle cx="496.0" cy="501.3" r="2.6" fill="#000"/>
<circle cx="499.2" cy="500.6" r="2.6" fill="#000"/>
<circle cx="487.7" cy="503.2" r="2.6" fill="#000"/>
<line x1="451.7" y1="563.6" x2="567.8" y2="336.4" stroke="#ff0000" stroke-width="3.0" />
<line x1="451.7" y1="335.9" x2="451.7" y2="575.3" stroke="#000" stroke-width="1.4" />
<line x1="451.0" y1="574.6" x2="690.6" y2="574.6" stroke="#000" stroke-width="1.4" />
<line x1="448.6" y1="574.6" x2="455.4" y2="574.6" stroke="#000" stroke-width="1.3" />
<text x="447.6" y="582.0" font-size="19.7" text-anchor="end" font-weight="normal" fill="#000" >0</text>
<line x1="451.7" y1="570.7" x2="451.7" y2="578.4" stroke="#000" stroke-width="1.3" />
<text x="451.7" y="593.0" font-size="19.7" text-anchor="middle" font-weight="normal" fill="#000" >0</text>
<line x1="448.6" y1="534.9" x2="455.4" y2="534.9" stroke="#000" stroke-width="1.3" />
<text x="447.6" y="542.3" font-size="19.7" text-anchor="end" font-weight="normal" fill="#000" >5</text>
<line x1="491.4" y1="570.7" x2="491.4" y2="578.4" stroke="#000" stroke-width="1.3" />
<text x="491.4" y="593.0" font-size="19.7" text-anchor="middle" font-weight="normal" fill="#000" >5</text>
<line x1="448.6" y1="495.2" x2="455.4" y2="495.2" stroke="#000" stroke-width="1.3" />
<text x="447.6" y="502.6" font-size="19.7" text-anchor="end" font-weight="normal" fill="#000" >10</text>
<line x1="531.1" y1="570.7" x2="531.1" y2="578.4" stroke="#000" stroke-width="1.3" />
<text x="531.1" y="593.0" font-size="19.7" text-anchor="middle" font-weight="normal" fill="#000" >10</text>
<line x1="448.6" y1="455.5" x2="455.4" y2="455.5" stroke="#000" stroke-width="1.3" />
<text x="447.6" y="462.9" font-size="19.7" text-anchor="end" font-weight="normal" fill="#000" >15</text>
<line x1="570.8" y1="570.7" x2="570.8" y2="578.4" stroke="#000" stroke-width="1.3" />
<text x="570.8" y="593.0" font-size="19.7" text-anchor="middle" font-weight="normal" fill="#000" >15</text>
<line x1="448.6" y1="415.8" x2="455.4" y2="415.8" stroke="#000" stroke-width="1.3" />
<text x="447.6" y="423.2" font-size="19.7" text-anchor="end" font-weight="normal" fill="#000" >20</text>
<line x1="610.5" y1="570.7" x2="610.5" y2="578.4" stroke="#000" stroke-width="1.3" />
<text x="610.5" y="593.0" font-size="19.7" text-anchor="middle" font-weight="normal" fill="#000" >20</text>
<line x1="448.6" y1="376.1" x2="455.4" y2="376.1" stroke="#000" stroke-width="1.3" />
<text x="447.6" y="383.5" font-size="19.7" text-anchor="end" font-weight="normal" fill="#000" >25</text>
<line x1="650.2" y1="570.7" x2="650.2" y2="578.4" stroke="#000" stroke-width="1.3" />
<text x="650.2" y="593.0" font-size="19.7" text-anchor="middle" font-weight="normal" fill="#000" >25</text>
<line x1="448.6" y1="336.4" x2="455.4" y2="336.4" stroke="#000" stroke-width="1.3" />
<text x="447.6" y="343.8" font-size="19.7" text-anchor="end" font-weight="normal" fill="#000" >30</text>
<line x1="689.9" y1="570.7" x2="689.9" y2="578.4" stroke="#000" stroke-width="1.3" />
<text x="689.9" y="593.0" font-size="19.7" text-anchor="middle" font-weight="normal" fill="#000" >30</text>
</svg>
</body></html>
